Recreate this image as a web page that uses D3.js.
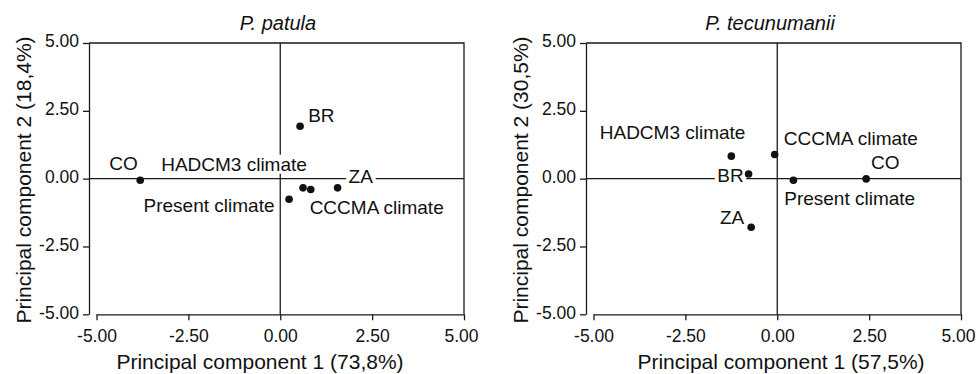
<!DOCTYPE html>
<html>
<head>
<meta charset="utf-8">
<script src="https://cdn.jsdelivr.net/npm/d3@7"></script>
<style>
  body { margin: 0; background: #fff; }
  svg { display: block; font-family: "Liberation Sans", Arial, sans-serif; }
  .tick text { font-size: 17.5px; fill: #111; }
  .axis path, .axis line { stroke: #1a1a1a; stroke-width: 1.3; }
</style>
</head>
<body>
<svg id="chart" width="977" height="374"></svg>
<script>
// point names (same order for both species)
const pointNames = ['CO', 'BR', 'ZA', 'HADCM3 climate', 'CCCMA climate', 'Present climate'];

// P. patula scores
const patulaPC1 = [-3.81, 0.54, 1.56, 0.62, 0.83, 0.24];
const patulaPC2 = [-0.06, 1.93, -0.34, -0.34, -0.40, -0.76];

// P. tecunumanii scores
const tecunPC1 = [2.42, -0.78, -0.71, -1.25, -0.07, 0.44];
const tecunPC2 = [-0.01, 0.17, -1.79, 0.83, 0.89, -0.06];

// label anchors, in data units (left edge, baseline)
const patulaLabelX = [-4.65, 0.76, 1.86, -3.24, 0.80, -3.72];
const patulaLabelY = [0.31, 2.08, -0.16, 0.29, -1.29, -1.23];
const tecunLabelX = [2.55, -1.63, -1.56, -4.83, 0.18, 0.19];
const tecunLabelY = [0.37, -0.13, -1.68, 1.47, 1.23, -0.98];

const tickValues = [-5, -2.5, 0, 2.5, 5];
const domain = [-5, 5];

class PCAPanel{

    constructor(svg, ox){
        this.svg = svg.append('g').attr('transform', 'translate(' + ox + ',0)');
        this.axisX = 89;
        this.left = 96.5;
        this.right = 464;
        this.top = 43;
        this.bottom = 314.3;
        this.x = d3.scaleLinear().domain(domain).range([this.left, this.right]);
        this.y = d3.scaleLinear().domain(domain).range([this.bottom, this.top]);
    }

    drawFrame(){
        let g = this.svg;

        g.append('g').attr('class', 'axis')
            .attr('transform', 'translate(0,' + this.bottom + ')')
            .call(d3.axisBottom(this.x).tickValues(tickValues).tickSize(6).tickSizeOuter(0)
                .tickPadding(9).tickFormat(d => d.toFixed(2)))
            .selectAll('.tick text')
            .attr('dx', d => d == 5 ? -3 : 0);

        g.append('g').attr('class', 'axis')
            .attr('transform', 'translate(' + this.axisX + ',0)')
            .call(d3.axisLeft(this.y).tickValues(tickValues).tickSize(6).tickSizeOuter(0)
                .tickPadding(4).tickFormat(d => d.toFixed(2)))
            .selectAll('.tick text').attr('dy', '0.22em');

        // top and right border
        g.append('path')
            .attr('d', 'M' + this.axisX + ',' + this.top + 'H' + this.right + 'V' + this.bottom)
            .attr('fill', 'none')
            .style('stroke', '#1a1a1a')
            .style('stroke-width', 1.3);

        // zero lines
        g.append('line')
            .attr('x1', this.x(0)).attr('x2', this.x(0))
            .attr('y1', this.top).attr('y2', this.bottom)
            .style('stroke', '#1a1a1a').style('stroke-width', 1.3);
        g.append('line')
            .attr('x1', this.axisX).attr('x2', this.right)
            .attr('y1', this.y(0)).attr('y2', this.y(0))
            .style('stroke', '#1a1a1a').style('stroke-width', 1.3);
    }

    drawTitles(title, xTitle, yTitle, titleX, xTitleX){
        this.svg.append('text')
            .text(title)
            .attr('x', titleX)
            .attr('y', 30)
            .attr('text-anchor', 'middle')
            .style('font-size', '20px')
            .style('font-style', 'italic')
            .style('fill', '#111');

        this.svg.append('text')
            .text(xTitle)
            .attr('x', xTitleX)
            .attr('y', 369)
            .attr('text-anchor', 'middle')
            .style('font-size', '21px')
            .style('fill', '#111');

        this.svg.append('text')
            .text(yTitle)
            .attr('transform', 'translate(31,180) rotate(-90)')
            .attr('text-anchor', 'middle')
            .style('font-size', '21px')
            .style('fill', '#111');
    }

    drawPoints(pc1, pc2, labelX, labelY){
        let labels = this.svg.append('g');
        pointNames.forEach((name, i)=>{
            let lg = labels.append('g');
            let t = lg.append('text')
                .text(name)
                .attr('x', this.x(labelX[i]))
                .attr('y', this.y(labelY[i]))
                .style('font-size', '19px')
                .style('fill', '#111');
            let b = t.node().getBBox();
            lg.insert('rect', 'text')
                .attr('x', b.x - 2.5)
                .attr('y', b.y + 1)
                .attr('width', b.width + 5)
                .attr('height', b.height - 2)
                .style('fill', '#fff');
        });

        this.svg.append('g').selectAll('circle')
            .data(pc1)
            .enter()
            .append('circle')
            .attr('cx', d => this.x(d))
            .attr('cy', (d, i) => this.y(pc2[i]))
            .attr('r', 3.8)
            .style('fill', '#111');
    }
}

const svg = d3.select('#chart');
svg.append('rect').attr('width', 977).attr('height', 374).style('fill', '#fff');

let patula = new PCAPanel(svg, 0);
patula.drawFrame();
patula.drawTitles('P. patula', 'Principal component 1 (73,8%)', 'Principal component 2 (18,4%)', 278, 260);
patula.drawPoints(patulaPC1, patulaPC2, patulaLabelX, patulaLabelY);

let tecun = new PCAPanel(svg, 497);
tecun.drawFrame();
tecun.drawTitles('P. tecunumanii', 'Principal component 1 (57,5%)', 'Principal component 2 (30,5%)', 273, 284);
tecun.drawPoints(tecunPC1, tecunPC2, tecunLabelX, tecunLabelY);
</script>
</body>
</html>
